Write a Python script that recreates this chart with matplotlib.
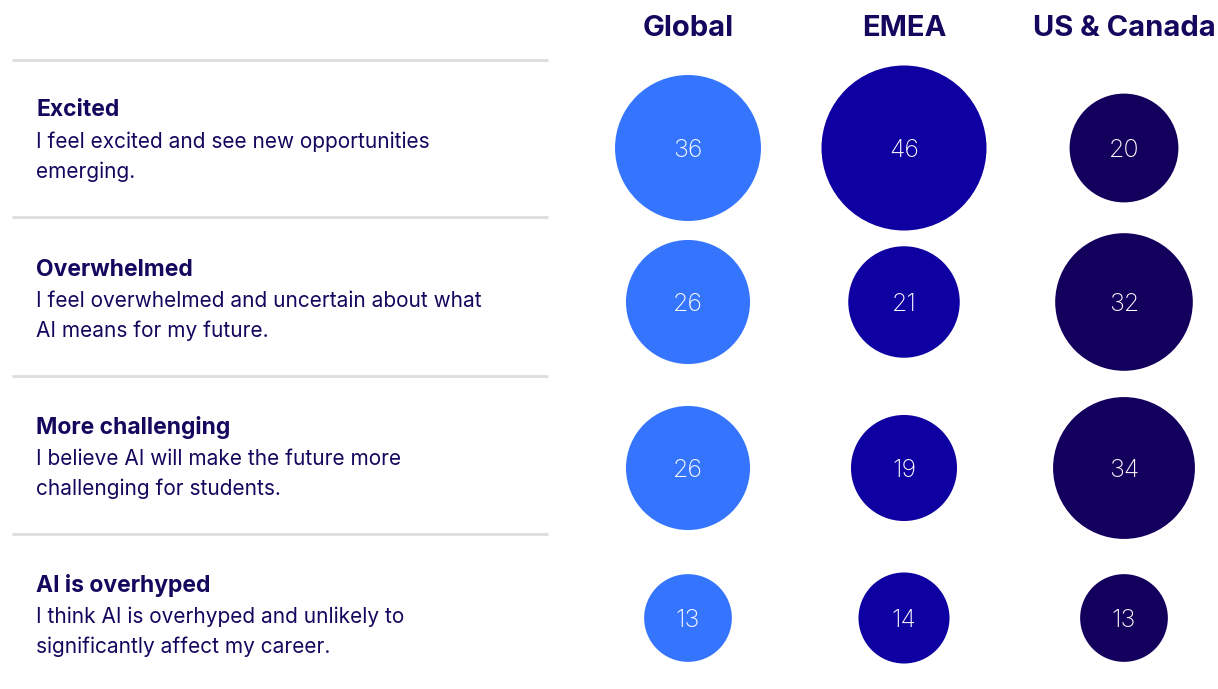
import numpy as np
import matplotlib.pyplot as plt
from matplotlib.patches import Circle

regions = ["Global", "EMEA", "US & Canada"]
titles = ["Excited", "Overwhelmed", "More challenging", "AI is overhyped"]
descriptions = [
    ["I feel excited and see new opportunities", "emerging."],
    ["I feel overwhelmed and uncertain about what", "AI means for my future."],
    ["I believe AI will make the future more", "challenging for students."],
    ["I think AI is overhyped and unlikely to", "significantly affect my career."],
]
global_vals = [36, 26, 26, 13]
emea_vals = [46, 21, 19, 14]
us_canada_vals = [20, 32, 34, 13]

colors = ["#3575FE", "#0F00A1", "#13005D"]
navy = "#15065E"

plt.rcParams["font.family"] = ["Inter", "DejaVu Sans"]

fig = plt.figure(figsize=(12.18, 6.89), dpi=100)
ax = fig.add_axes([0, 0, 1, 1])
ax.set_xlim(0, 1218)
ax.set_ylim(689, 0)
ax.set_aspect("equal")
ax.axis("off")

col_x = [688, 904, 1124]
row_y = [148, 302, 468, 618]
title_y = [108, 267, 425, 583]
sep_y = [60, 217, 376, 534]
scale = 82.5 / np.sqrt(46)

for y in sep_y:
    ax.plot([12, 548], [y, y], color="#DDDDDD", lw=2, solid_capstyle="butt")

for name, x in zip(regions, col_x):
    ax.text(x, 26, name, ha="center", va="center_baseline", fontsize=21,
            fontweight="bold", color=navy)

for t, lines, y in zip(titles, descriptions, title_y):
    ax.text(36, y, t, ha="left", va="center_baseline", fontsize=16.5,
            fontweight="bold", color=navy)
    for k, line in enumerate(lines):
        ax.text(36, y + 32 + 30 * k, line, ha="left", va="center_baseline",
                fontsize=15, color=navy)

for vals, x, c in zip([global_vals, emea_vals, us_canada_vals], col_x, colors):
    for v, y in zip(vals, row_y):
        ax.add_patch(Circle((x, y), scale * np.sqrt(v), color=c, lw=0))
        ax.text(x, y, str(v), ha="center", va="center_baseline", fontsize=18,
                color="white", fontweight="light")

fig.savefig("out.png", dpi=100, facecolor="white")
